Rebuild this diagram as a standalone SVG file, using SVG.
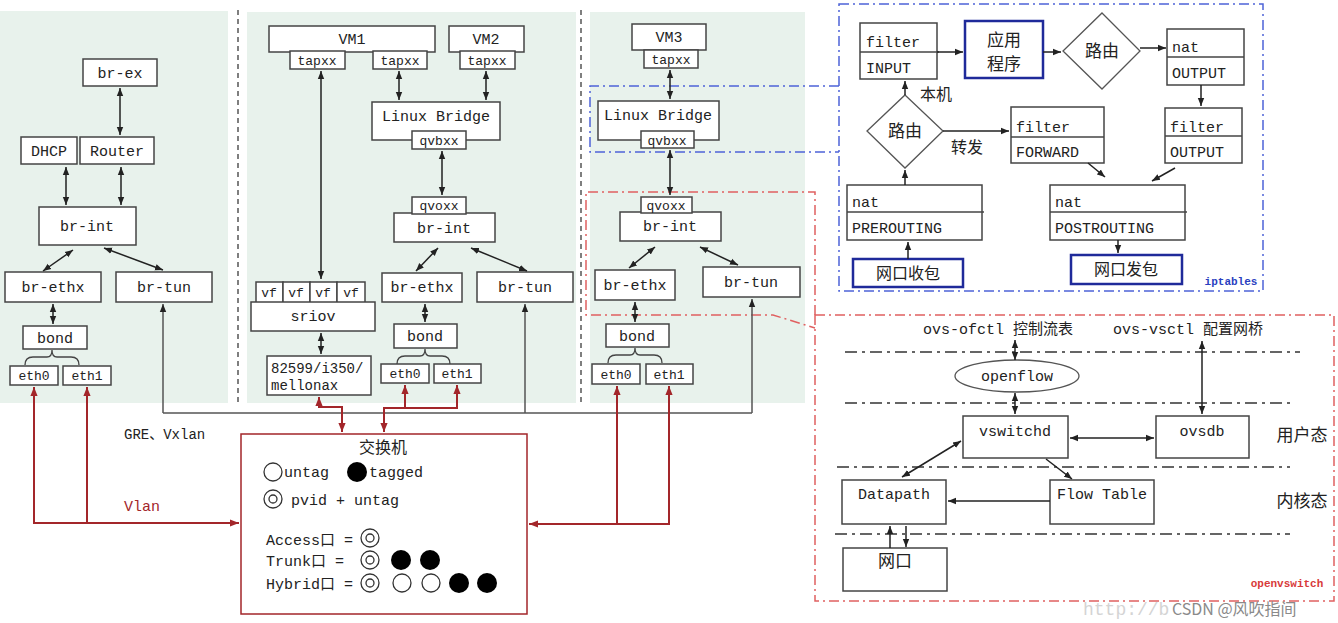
<svg xmlns="http://www.w3.org/2000/svg" width="1338" height="623" viewBox="0 0 1338 623">
<style>
.t{font-family:"Liberation Mono","Noto Sans CJK SC",monospace;font-size:15px;fill:#222;text-anchor:middle}
.s{font-size:13px}
.l{text-anchor:start}
.c{font-family:"Noto Sans CJK SC",sans-serif;font-size:16px;fill:#222;text-anchor:middle}
.b{fill:#fff;stroke:#444;stroke-width:1.5}
.bb{fill:#fff;stroke:#1f2a9a;stroke-width:2.5}
.bg{fill:#e8f2ec}
.k{fill:none;stroke:#222;stroke-width:1.5;marker-end:url(#ah)}
.kk{fill:none;stroke:#222;stroke-width:1.5;marker-end:url(#ah);marker-start:url(#ah)}
.g{fill:none;stroke:#555;stroke-width:1.5}
.r{fill:none;stroke:#a3262a;stroke-width:2}
.dd{fill:none;stroke:#333;stroke-width:1.3;stroke-dasharray:12,5,3,5}
</style>
<defs>
<marker id="ah" viewBox="0 0 10 10" refX="10" refY="5" markerWidth="8" markerHeight="8" markerUnits="userSpaceOnUse" orient="auto-start-reverse"><path d="M0,1 L10,5 L0,9 z" fill="#222"/></marker>
<marker id="ar" viewBox="0 0 10 10" refX="10" refY="5" markerWidth="9" markerHeight="9" markerUnits="userSpaceOnUse" orient="auto-start-reverse"><path d="M0,1 L10,5 L0,9 z" fill="#a3262a"/></marker>
</defs>

<g id="panels">
<rect class="bg" x="0" y="11" width="228" height="392"/>
<rect class="bg" x="247" y="12" width="329" height="391"/>
<rect class="bg" x="590" y="12" width="215" height="391"/>
<line x1="238" y1="10" x2="238" y2="405" stroke="#555" stroke-width="1.5" stroke-dasharray="5,4"/>
<line x1="581" y1="10" x2="581" y2="405" stroke="#555" stroke-width="1.5" stroke-dasharray="5,4"/>
</g>

<!-- left panel -->
<g id="br-ex-left"><rect class="b" x="83" y="59" width="74" height="27"/><text class="t" x="120" y="78">br-ex</text></g>
<g id="dhcp"><rect class="b" x="21" y="137" width="56" height="27"/><text class="t" x="49" y="156">DHCP</text></g>
<g id="router"><rect class="b" x="80" y="137" width="74" height="27"/><text class="t" x="117" y="156">Router</text></g>
<g id="br-int-left"><rect class="b" x="39" y="207" width="97" height="38"/><text class="t" x="87" y="231">br-int</text></g>
<g id="br-ethx-left"><rect class="b" x="5" y="272" width="96" height="30"/><text class="t" x="53" y="292">br-ethx</text></g>
<g id="br-tun-left"><rect class="b" x="116" y="272" width="96" height="30"/><text class="t" x="164" y="292">br-tun</text></g>
<g id="bond-left"><rect class="b" x="23" y="326" width="64" height="23"/><text class="t" x="55" y="343">bond</text>
<path d="M25,365 Q25,357 33,357 H47 Q52,357 52,350 Q52,357 57,357 H71 Q79,357 79,365" fill="none" stroke="#444" stroke-width="1.3"/></g>
<g id="eth0-left"><rect class="b" x="10" y="366" width="48" height="19"/><text class="t s" x="34" y="380">eth0</text></g>
<g id="eth1-left"><rect class="b" x="63" y="366" width="48" height="19"/><text class="t s" x="87" y="380">eth1</text></g>

<!-- middle panel -->
<g id="vm1"><rect class="b" x="269" y="26" width="166" height="26"/><text class="t" x="352" y="44">VM1</text>
<rect class="b" x="290" y="51" width="55" height="18"/><text class="t s" x="317" y="65">tapxx</text>
<rect class="b" x="373" y="51" width="54" height="18"/><text class="t s" x="400" y="65">tapxx</text></g>
<g id="vm2"><rect class="b" x="449" y="26" width="75" height="26"/><text class="t" x="486" y="44">VM2</text>
<rect class="b" x="460" y="51" width="55" height="18"/><text class="t s" x="487" y="65">tapxx</text></g>
<g id="lb-mid"><rect class="b" x="372" y="102" width="128" height="38"/><text class="t" x="436" y="121">Linux Bridge</text>
<rect class="b" x="412" y="131" width="54" height="18"/><text class="t s" x="439" y="145">qvbxx</text></g>
<g id="br-int-mid"><rect class="b" x="394" y="213" width="101" height="29"/><text class="t" x="444" y="233">br-int</text>
<rect class="b" x="412" y="197" width="54" height="17"/><text class="t s" x="439" y="210">qvoxx</text></g>
<g id="br-ethx-mid"><rect class="b" x="382" y="273" width="80" height="29"/><text class="t" x="422" y="292">br-ethx</text></g>
<g id="br-tun-mid"><rect class="b" x="477" y="272" width="96" height="30"/><text class="t" x="525" y="292">br-tun</text></g>
<g id="sriov"><rect class="b" x="256" y="282" width="27" height="21"/><rect class="b" x="283" y="282" width="27" height="21"/><rect class="b" x="310" y="282" width="27" height="21"/><rect class="b" x="337" y="282" width="28" height="21"/>
<text class="t s" x="269" y="297">vf</text><text class="t s" x="296" y="297">vf</text><text class="t s" x="323" y="297">vf</text><text class="t s" x="351" y="297">vf</text>
<rect class="b" x="251" y="302" width="124" height="29"/><text class="t" x="313" y="321">sriov</text></g>
<g id="nic"><rect class="b" x="267" y="356" width="104" height="39"/><text class="t l" x="271" y="373" style="font-size:14px">82599/i350/</text><text class="t l" x="271" y="390" style="font-size:14px">mellonax</text></g>
<g id="bond-mid"><rect class="b" x="394" y="324" width="63" height="24"/><text class="t" x="425" y="341">bond</text>
<path d="M397,364 Q397,356 405,356 H420 Q425,356 425,349 Q425,356 430,356 H442 Q450,356 450,364" fill="none" stroke="#444" stroke-width="1.3"/></g>
<g id="eth0-mid"><rect class="b" x="381" y="364" width="48" height="19"/><text class="t s" x="405" y="378">eth0</text></g>
<g id="eth1-mid"><rect class="b" x="434" y="364" width="47" height="19"/><text class="t s" x="457" y="378">eth1</text></g>

<!-- right panel -->
<g id="vm3"><rect class="b" x="632" y="24" width="74" height="26"/><text class="t" x="669" y="42">VM3</text>
<rect class="b" x="644" y="50" width="54" height="18"/><text class="t s" x="671" y="64">tapxx</text></g>
<g id="lb-right"><rect class="b" x="598" y="101" width="121" height="39"/><text class="t" x="658" y="120">Linux Bridge</text>
<rect class="b" x="641" y="131" width="53" height="17"/><text class="t s" x="667" y="145">qvbxx</text></g>
<g id="br-int-right"><rect class="b" x="620" y="212" width="101" height="29"/><text class="t" x="670" y="231">br-int</text>
<rect class="b" x="641" y="197" width="51" height="16"/><text class="t s" x="666" y="210">qvoxx</text></g>
<g id="br-ethx-right"><rect class="b" x="595" y="270" width="80" height="30"/><text class="t" x="635" y="290">br-ethx</text></g>
<g id="br-tun-right"><rect class="b" x="703" y="267" width="97" height="30"/><text class="t" x="751" y="287">br-tun</text></g>
<g id="bond-right"><rect class="b" x="606" y="324" width="63" height="23"/><text class="t" x="637" y="341">bond</text>
<path d="M608,363 Q608,355 616,355 H630 Q635,355 635,348 Q635,355 640,355 H654 Q662,355 662,363" fill="none" stroke="#444" stroke-width="1.3"/></g>
<g id="eth0-right"><rect class="b" x="592" y="364" width="48" height="20"/><text class="t s" x="616" y="379">eth0</text></g>
<g id="eth1-right"><rect class="b" x="646" y="364" width="47" height="20"/><text class="t s" x="669" y="379">eth1</text></g>

<!-- switch -->
<g id="switch">
<rect x="241" y="434" width="286" height="180" fill="#fff" stroke="#a3262a" stroke-width="1.5"/>
<text class="c" x="383" y="453">交换机</text>
<circle cx="273" cy="472" r="9" fill="none" stroke="#333" stroke-width="1.3"/>
<text class="t l" x="284" y="477">untag</text>
<circle cx="357" cy="472" r="10" fill="#000"/>
<text class="t l" x="369" y="477">tagged</text>
<circle cx="273" cy="499" r="9" fill="none" stroke="#333" stroke-width="1.3"/><circle cx="273" cy="499" r="4" fill="none" stroke="#333" stroke-width="1.3"/>
<text class="t l" x="291" y="505">pvid + untag</text>
<text class="t l" x="266" y="545">Access口 =</text>
<circle cx="370" cy="538" r="9" fill="none" stroke="#333" stroke-width="1.3"/><circle cx="370" cy="538" r="4" fill="none" stroke="#333" stroke-width="1.3"/>
<text class="t l" x="266" y="566">Trunk口  =</text>
<circle cx="370" cy="560" r="9" fill="none" stroke="#333" stroke-width="1.3"/><circle cx="370" cy="560" r="4" fill="none" stroke="#333" stroke-width="1.3"/>
<circle cx="401" cy="560" r="10" fill="#000"/><circle cx="430" cy="560" r="10" fill="#000"/>
<text class="t l" x="266" y="589">Hybrid口 =</text>
<circle cx="370" cy="583" r="9" fill="none" stroke="#333" stroke-width="1.3"/><circle cx="370" cy="583" r="4" fill="none" stroke="#333" stroke-width="1.3"/>
<circle cx="402" cy="583" r="9" fill="none" stroke="#333" stroke-width="1.3"/><circle cx="431" cy="583" r="9" fill="none" stroke="#333" stroke-width="1.3"/>
<circle cx="459" cy="583" r="10" fill="#000"/><circle cx="487" cy="583" r="10" fill="#000"/>
</g>
<text class="t l" x="124" y="439" style="font-size:14px">GRE、Vxlan</text>
<text class="t l" x="124" y="511" style="fill:#a3262a">Vlan</text>

<!-- iptables -->
<g id="iptables-frame">
<rect x="839" y="4" width="424" height="287" fill="none" stroke="#4d63d8" stroke-width="1.5" stroke-dasharray="10,4,2,4"/>
<path d="M839,86 H590 V152 H839" fill="none" stroke="#4d63d8" stroke-width="1.5" stroke-dasharray="10,4,2,4"/>
<text x="1231" y="285" style="font-family:'Liberation Mono',monospace;font-size:11px;font-weight:bold;fill:#2a3fc0;text-anchor:middle">iptables</text>
</g>
<g id="filter-input"><rect class="b" x="860" y="23" width="77" height="56"/><line x1="860" y1="52" x2="939" y2="52" stroke="#444" stroke-width="1.3"/><text class="t l" x="866" y="47">filter</text><text class="t l" x="866" y="73">INPUT</text></g>
<g id="app"><rect class="bb" x="965" y="21" width="78" height="57"/><text class="c" x="1004" y="46" style="font-size:17px">应用</text><text class="c" x="1004" y="70" style="font-size:17px">程序</text></g>
<g id="route-top"><polygon points="1102,13 1140,51 1102,89 1063,51" fill="#fff" stroke="#555" stroke-width="1.3"/><text class="c" x="1102" y="57" style="font-size:17px">路由</text></g>
<g id="nat-output"><rect class="b" x="1167" y="29" width="77" height="56"/><line x1="1167" y1="57" x2="1244" y2="57" stroke="#444" stroke-width="1.3"/><text class="t l" x="1172" y="52">nat</text><text class="t l" x="1172" y="78">OUTPUT</text></g>
<g id="filter-output"><rect class="b" x="1165" y="108" width="77" height="55"/><line x1="1165" y1="136" x2="1242" y2="136" stroke="#444" stroke-width="1.3"/><text class="t l" x="1170" y="132">filter</text><text class="t l" x="1170" y="157">OUTPUT</text></g>
<g id="route-low"><polygon points="905,95 943,131 905,168 867,131" fill="#fff" stroke="#555" stroke-width="1.3"/><text class="c" x="905" y="137" style="font-size:17px">路由</text></g>
<g id="filter-forward"><rect class="b" x="1011" y="107" width="93" height="56"/><line x1="1011" y1="137" x2="1104" y2="137" stroke="#444" stroke-width="1.3"/><text class="t l" x="1016" y="132">filter</text><text class="t l" x="1016" y="157">FORWARD</text></g>
<g id="nat-pre"><rect class="b" x="847" y="185" width="135" height="55"/><line x1="847" y1="212" x2="984" y2="212" stroke="#444" stroke-width="1.3"/><text class="t l" x="852" y="207">nat</text><text class="t l" x="852" y="233">PREROUTING</text></g>
<g id="rx"><rect class="bb" x="853" y="259" width="110" height="28"/><text class="c" x="908" y="279">网口收包</text></g>
<g id="nat-post"><rect class="b" x="1050" y="185" width="135" height="55"/><line x1="1050" y1="212" x2="1187" y2="212" stroke="#444" stroke-width="1.3"/><text class="t l" x="1055" y="207">nat</text><text class="t l" x="1055" y="233">POSTROUTING</text></g>
<g id="tx"><rect class="bb" x="1071" y="255" width="111" height="29"/><text class="c" x="1126" y="275">网口发包</text></g>
<text class="c" x="936" y="100">本机</text>
<text class="c" x="967" y="153">转发</text>

<!-- openvswitch -->
<g id="ovs-frame">
<rect x="815" y="315" width="519" height="286" fill="none" stroke="#e06060" stroke-width="1.5" stroke-dasharray="10,4,2,4"/>
<path d="M815,315 V192 H586 V315 H773 L815,328" fill="none" stroke="#e06060" stroke-width="1.5" stroke-dasharray="10,4,2,4"/>
<line class="dd" x1="845" y1="352" x2="1300" y2="352"/>
<line class="dd" x1="845" y1="403" x2="1295" y2="403"/>
<line class="dd" x1="837" y1="467" x2="1290" y2="467"/>
<line class="dd" x1="835" y1="534" x2="1290" y2="534"/>
<text class="t l" x="923" y="334">ovs-ofctl 控制流表</text>
<text class="t l" x="1113" y="334">ovs-vsctl 配置网桥</text>
<text class="c" x="1302" y="441" style="font-size:17px">用户态</text>
<text class="c" x="1302" y="507" style="font-size:17px">内核态</text>
<text x="1287" y="587" style="font-family:'Liberation Mono',monospace;font-size:11px;font-weight:bold;fill:#d83a3a;text-anchor:middle">openvswitch</text>
</g>
<g id="openflow"><ellipse cx="1017" cy="376" rx="62" ry="16" fill="#fff" stroke="#555" stroke-width="1.3"/><text class="t" x="1017" y="381">openflow</text></g>
<g id="vswitchd"><rect class="b" x="963" y="416" width="105" height="42"/><text class="t" x="1015" y="436">vswitchd</text></g>
<g id="ovsdb"><rect class="b" x="1156" y="416" width="93" height="42"/><text class="t" x="1202" y="436">ovsdb</text></g>
<g id="datapath"><rect class="b" x="842" y="480" width="104" height="44"/><text class="t" x="894" y="499">Datapath</text></g>
<g id="flowtable"><rect class="b" x="1050" y="480" width="104" height="44"/><text class="t" x="1102" y="499">Flow Table</text></g>
<g id="nic-port"><rect class="b" x="843" y="548" width="104" height="43"/><text class="c" x="895" y="567" style="font-size:17px">网口</text></g>

<!-- connectors -->
<g id="connectors">
<path class="kk" d="M120,88 V135"/>
<path class="kk" d="M66,167 V205"/>
<path class="kk" d="M121,167 V205"/>
<path class="kk" d="M73,250 L43,271"/>
<path class="kk" d="M104,248 L163,270"/>
<path class="kk" d="M53,304 V324"/>
<path class="kk" d="M321,71 V279"/>
<path class="kk" d="M399,71 V100"/>
<path class="kk" d="M486,71 V100"/>
<path class="kk" d="M442,151 V195"/>
<path class="kk" d="M438,248 L416,271"/>
<path class="kk" d="M471,248 L527,271"/>
<path class="kk" d="M425,304 V322"/>
<path class="kk" d="M321,333 V354"/>
<path class="kk" d="M670,70 V99"/>
<path class="kk" d="M670,150 V195"/>
<path class="kk" d="M655,247 L629,268"/>
<path class="kk" d="M700,247 L738,265"/>
<path class="kk" d="M635,302 V322"/>
<path class="g" d="M163,413 H752"/>
<path class="g" d="M163,413 V304" marker-end="url(#ah)"/>
<path class="g" d="M525,413 V304" marker-end="url(#ah)"/>
<path class="g" d="M752,413 V299" marker-end="url(#ah)"/>
<path class="r" d="M34,387 V523 H239" marker-start="url(#ar)" marker-end="url(#ar)"/>
<path class="r" d="M87,387 V523" marker-start="url(#ar)"/>
<path class="r" d="M319,397 V407 H342 V432" marker-start="url(#ar)" marker-end="url(#ar)"/>
<path class="r" d="M405,385 V408" marker-start="url(#ar)"/>
<path class="r" d="M457,385 V408 H384 V432" marker-start="url(#ar)" marker-end="url(#ar)"/>
<path class="r" d="M617,386 V524" marker-start="url(#ar)"/>
<path class="r" d="M669,386 V524 H529" marker-start="url(#ar)" marker-end="url(#ar)"/>
<path class="k" d="M937,52 H963"/>
<path class="k" d="M1043,52 H1061"/>
<path class="k" d="M1140,48 H1166"/>
<path class="k" d="M1201,85 V106"/>
<path class="k" d="M905,95 V81"/>
<path class="k" d="M943,131 H1009"/>
<path class="k" d="M905,185 V170"/>
<path class="k" d="M908,259 V242"/>
<path class="k" d="M1088,163 L1105,177"/>
<path class="k" d="M1175,168 L1152,181"/>
<path class="k" d="M1118,240 V253"/>
<path class="kk" d="M1015,340 V360"/>
<path class="kk" d="M1015,393 V414"/>
<path class="kk" d="M1202,341 V414"/>
<path class="kk" d="M1070,438 H1154"/>
<path class="kk" d="M902,477 L961,441"/>
<path class="k" d="M1046,459 L1072,479"/>
<path class="k" d="M1050,501 H948"/>
<path class="k" d="M890,548 V526"/>
<path class="k" d="M906,526 V547"/>
</g>

<g id="watermark">
<text x="1083" y="615" style="font-family:'Liberation Mono',monospace;font-size:18px;fill:#d4d4d4">http://b</text>
<text x="1172" y="615" style="font-family:'Noto Sans CJK SC',sans-serif;font-size:16px;fill:#8a8a8a">CSDN @风吹指间</text>
</g>
</svg>
